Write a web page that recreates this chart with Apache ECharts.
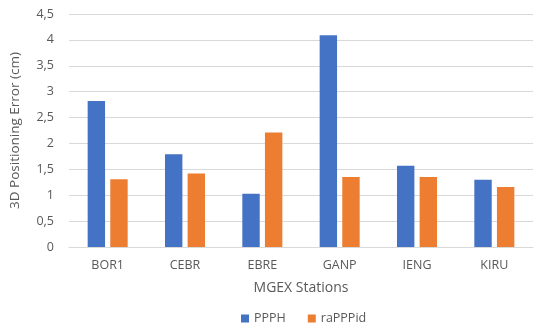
<!DOCTYPE html>
<html><head><meta charset="utf-8">
<script src="https://cdn.jsdelivr.net/npm/echarts@6/dist/echarts.min.js"></script>
<style>html,body{margin:0;padding:0;background:#fff}#c{width:541px;height:327px}</style>
</head><body><div id="c"></div>
<script>
const categories = ['BOR1','CEBR','EBRE','GANP','IENG','KIRU'];
const ppph = [2.82, 1.79, 1.03, 4.09, 1.57, 1.30];
const rapppid = [1.31, 1.42, 2.21, 1.35, 1.35, 1.16];
const seriesNames = ['PPPH','raPPPid'];
const font = 'Open Sans';
const chart = echarts.init(document.getElementById('c'));
chart.setOption({
  animation:false,
  textStyle:{fontFamily:font},
  grid:{left:67,right:8,top:14,bottom:80},
  legend:{
    data:seriesNames, top:307, left:236, itemWidth:8, itemHeight:8, itemGap:22,
    icon:'rect', textStyle:{color:'#595959',fontSize:12.5,fontFamily:font}
  },
  xAxis:{
    type:'category', data:categories,
    axisLine:{lineStyle:{color:'#d9d9d9',width:1}}, axisTick:{show:false},
    axisLabel:{color:'#595959',fontSize:12.5,margin:12,fontFamily:font},
    name:'MGEX Stations', nameLocation:'middle', nameGap:34,
    nameTextStyle:{color:'#595959',fontSize:14,fontFamily:font}
  },
  yAxis:{
    type:'value', min:0, max:4.5, interval:0.5,
    axisLine:{show:false}, axisTick:{show:false},
    splitLine:{lineStyle:{color:'#d9d9d9',width:1}},
    axisLabel:{color:'#595959',fontSize:12.5,margin:15,fontFamily:font,
      formatter:v=>String(v).replace('.',',')},
    name:'3D Positioning Error (cm)', nameLocation:'middle', nameGap:47, nameRotate:90,
    nameTextStyle:{color:'#595959',fontSize:13.5,fontFamily:font}
  },
  series:[
    {name:seriesNames[0], type:'bar', data:ppph, barWidth:'22.5%', barGap:'30%', itemStyle:{color:'#4472C4'}},
    {name:seriesNames[1], type:'bar', data:rapppid, barWidth:'22.5%', barGap:'30%', itemStyle:{color:'#ED7D31'}}
  ]
});
</script></body></html>
